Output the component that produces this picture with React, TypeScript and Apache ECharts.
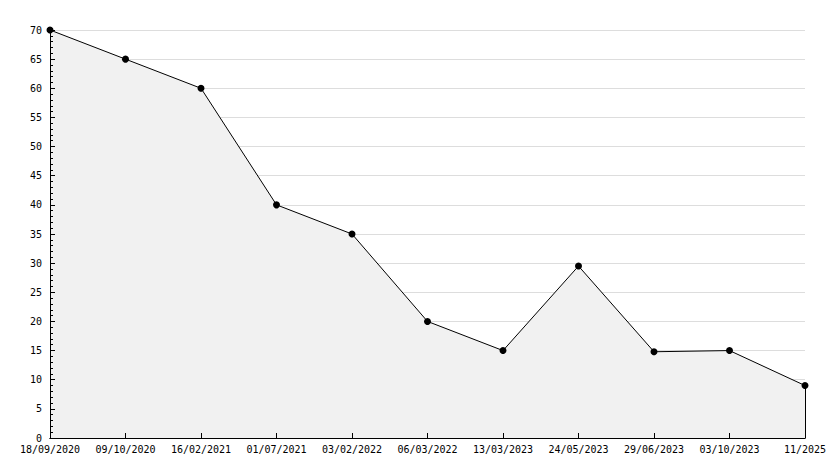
import React, { useEffect, useRef } from "react";
import * as echarts from "echarts";

const categories = [
  "18/09/2020", "09/10/2020", "16/02/2021", "01/07/2021", "03/02/2022",
  "06/03/2022", "13/03/2023", "24/05/2023", "29/06/2023", "03/10/2023", "11/2025",
];
const values = [70, 65, 60, 40, 35, 20, 15, 29.5, 14.8, 15, 9];

export default function App() {
  const ref = useRef<HTMLDivElement>(null);
  useEffect(() => {
    const chart = echarts.init(ref.current!, null, { renderer: "svg" });
    const font = { fontFamily: "DejaVu Sans Mono", fontSize: 10, color: "#000" };
    const lastIdx = categories.length - 1;
    const black = { color: "#000", width: 1 };
    chart.setOption({
      animation: false,
      backgroundColor: "#fff",
      grid: { left: 50, right: 29, top: 30, bottom: 30, containLabel: false },
      xAxis: [
        {
          type: "category",
          data: categories,
          boundaryGap: false,
          axisLine: { lineStyle: black },
          axisTick: { show: false },
          axisLabel: { ...font, margin: 6, interval: 0 },
          splitLine: { show: false },
        },
        {
          type: "category",
          data: categories,
          position: "bottom",
          boundaryGap: false,
          z: 10,
          axisLine: { lineStyle: black },
          axisTick: { inside: true, length: 5, interval: 0, lineStyle: black },
          axisLabel: { show: false, interval: 0 },
          splitLine: { show: false },
        },
      ],
      yAxis: [
        {
          type: "value",
          min: 0,
          max: 70,
          interval: 5,
          axisLine: { show: true, lineStyle: black },
          axisTick: { show: false },
          axisLabel: { ...font, margin: 8 },
          splitLine: { show: true, lineStyle: { color: "#dddddd", width: 1 } },
        },
        {
          type: "value",
          min: 0,
          max: 70,
          interval: 5,
          position: "left",
          z: 10,
          axisLine: { show: true, lineStyle: black },
          axisTick: { show: true, inside: true, length: 5, lineStyle: black },
          minorTick: { show: true, splitNumber: 5, length: 3, lineStyle: black },
          axisLabel: { show: false },
          splitLine: { show: false },
        },
      ],
      series: [
        {
          type: "line",
          data: values,
          xAxisIndex: 0,
          yAxisIndex: 0,
          symbol: "circle",
          symbolSize: 7,
          itemStyle: { color: "#000" },
          lineStyle: { color: "#000", width: 1 },
          areaStyle: { color: "#f1f1f1", opacity: 1 },
          markLine: {
            silent: true,
            symbol: "none",
            label: { show: false },
            lineStyle: { color: "#000", width: 1, type: "solid" },
            data: [
              [
                { coord: [categories[lastIdx], 0] },
                { coord: [categories[lastIdx], values[lastIdx]] },
              ],
            ],
          },
        },
      ],
    });
    return () => chart.dispose();
  }, []);
  return <div ref={ref} style={{ width: 834, height: 468, position: "absolute", left: 0, top: 0 }} />;
}
